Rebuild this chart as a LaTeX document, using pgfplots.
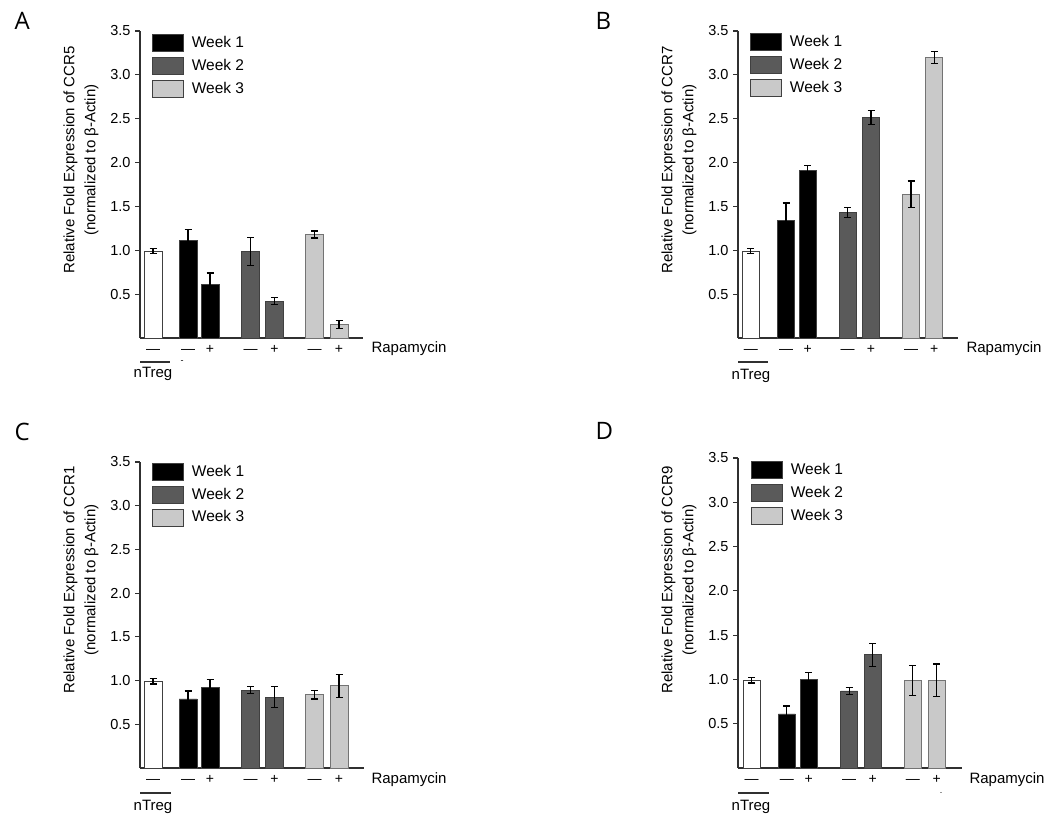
\documentclass[border=0pt]{standalone}
\usepackage{fontspec}
\setmainfont{Liberation Sans}
\newfontfamily\letterfont{Open Sans}
\usepackage{pgfplots}
\pgfplotsset{compat=1.18}
\definecolor{wkone}{HTML}{000000}
\definecolor{wktwo}{HTML}{5A5A5A}
\definecolor{wkthree}{HTML}{C9C9C9}
\definecolor{edge}{HTML}{404040}
\definecolor{axisc}{HTML}{303030}
\pgfplotsset{
  panel/.style={
    scale only axis, axis lines*=left, clip=false,
    ymin=0, ymax=3.5, ytick={0.5,1.0,1.5,2.0,2.5,3.0,3.5},
    yticklabel style={/pgf/number format/fixed, /pgf/number format/fixed zerofill, /pgf/number format/precision=1, /pgf/number format/assume math mode=true, font=\fontsize{14.5}{16}\selectfont, xshift=-1pt},
    axis line style={axisc, line width=1.2pt},
    ytick style={axisc, line width=1.1pt}, tick align=outside, major tick length=5pt,
    xtick style={draw=none},
    xticklabels={\textemdash,\textemdash,+,\textemdash,+,\textemdash,+},
    x tick label style={font=\fontsize{14}{16}\selectfont, anchor=base, yshift=-11pt},
    ybar, bar shift=0pt,
    legend image code/.code={\draw[##1, draw=edge, line width=0.8pt] (0pt,-8.5pt) rectangle (31pt,8.5pt);},
    legend cell align=left,
    legend style={draw=none, fill=none, inner sep=0pt, outer sep=0pt, anchor=north west,
      font=\fontsize{15.5}{17}\selectfont, row sep=5pt, column sep=8pt,
      nodes={inner sep=0pt, text height=11pt, text depth=2pt}},
    every axis plot/.append style={draw=edge, line width=0.8pt,
      error bars/error bar style={black, line width=1.2pt},
      error bars/error mark options={rotate=90, black, line width=1.2pt, mark size=3.5pt}},
  },
  ebar/.style={error bars/.cd, y dir=both, y explicit},
}
\begin{document}
\begin{tikzpicture}[x=1pt, y=1pt, font=\fontsize{15}{21}\selectfont]
\path[use as bounding box] (0,0) rectangle (1050,817);

% ---------------- Panel A ----------------
\node[anchor=base west, font=\letterfont\fontsize{24}{26}\selectfont] at (11,787) {A};
\begin{axis}[panel, at={(140pt,479pt)}, anchor=south west, width=223pt, height=307pt,
  xmin=0, xmax=223, bar width=18, xtick={13,48,70,110.5,134.5,174.5,199},
  legend style={at={(rel axis cs:0.054,0.99)}}]
\addplot[fill=white, forget plot, ebar] coordinates {(13,0.99) +- (0,0.03)};
\addplot[fill=wkone, ebar] coordinates {(48,1.11) +- (0,0.13) (70,0.61) +- (0,0.13)};
\addplot[fill=wktwo, ebar] coordinates {(110.5,0.99) +- (0,0.16) (134.5,0.42) +- (0,0.04)};
\addplot[fill=wkthree, draw=gray!90!black, ebar] coordinates {(174.5,1.18) +- (0,0.04) (199,0.15) +- (0,0.045)};
\legend{Week 1, Week 2, Week 3}
\end{axis}
\node[anchor=base west] at (368,464.5) {Rapamycin};
\draw[axisc, line width=1.1pt] (140,455) -- (170,455);
\node at (153,443) {nTreg};
\node[inner sep=0pt, font=\fontsize{9}{10}\selectfont] at (182,455) {-};
\node[rotate=90, align=center] at (81,657) {Relative Fold Expression of CCR5\\(normalized to β-Actin)};

% ---------------- Panel B ----------------
\node[anchor=base west, font=\letterfont\fontsize{24}{26}\selectfont] at (592,787) {B};
\begin{axis}[panel, at={(738pt,479pt)}, anchor=south west, width=220pt, height=307pt,
  xmin=0, xmax=220, bar width=17, xtick={12.8,48,69.7,109.7,133,173,196.3},
  legend style={at={(rel axis cs:0.055,0.993)}}]
\addplot[fill=white, forget plot, ebar] coordinates {(12.8,0.99) +- (0,0.03)};
\addplot[fill=wkone, ebar] coordinates {(48,1.34) +- (0,0.20) (69.7,1.91) +- (0,0.06)};
\addplot[fill=wktwo, ebar] coordinates {(109.7,1.43) +- (0,0.06) (133,2.51) +- (0,0.08)};
\addplot[fill=wkthree, draw=gray!90!black, ebar] coordinates {(173,1.64) +- (0,0.15) (196.3,3.20) +- (0,0.07)};
\legend{Week 1, Week 2, Week 3}
\end{axis}
\node[anchor=base west] at (963,464) {Rapamycin};
\draw[axisc, line width=1.1pt] (738,455) -- (768,455);
\node at (751,441) {nTreg};
\node[rotate=90, align=center] at (679,657) {Relative Fold Expression of CCR7\\(normalized to β-Actin)};

% ---------------- Panel C ----------------
\node[anchor=base west, font=\letterfont\fontsize{24}{26}\selectfont] at (11,376) {C};
\begin{axis}[panel, at={(140pt,49pt)}, anchor=south west, width=224pt, height=306pt,
  xmin=0, xmax=224, bar width=18, xtick={13,48,70,110.5,134.5,174.5,199},
  legend style={at={(rel axis cs:0.054,0.997)}}]
\addplot[fill=white, forget plot, ebar] coordinates {(13,0.99) +- (0,0.03)};
\addplot[fill=wkone, ebar] coordinates {(48,0.79) +- (0,0.09) (70,0.92) +- (0,0.09)};
\addplot[fill=wktwo, ebar] coordinates {(110.5,0.89) +- (0,0.04) (134.5,0.81) +- (0,0.12)};
\addplot[fill=wkthree, draw=gray!90!black, ebar] coordinates {(174.5,0.84) +- (0,0.05) (199,0.94) +- (0,0.13)};
\legend{Week 1, Week 2, Week 3}
\end{axis}
\node[anchor=base west] at (368,33) {Rapamycin};
\draw[axisc, line width=1.1pt] (140,24) -- (171,24);
\node at (153,10) {nTreg};
\node[rotate=90, align=center] at (81,237) {Relative Fold Expression of CCR1\\(normalized to β-Actin)};

% ---------------- Panel D ----------------
\node[anchor=base west, font=\letterfont\fontsize{24}{26}\selectfont] at (592,377) {D};
\begin{axis}[panel, at={(738pt,49pt)}, anchor=south west, width=224pt, height=310pt,
  xmin=0, xmax=224, bar width=17, xtick={13.5,48.8,70.7,111.2,134.8,174.8,198.8},
  legend style={at={(rel axis cs:0.058,0.99)}}]
\addplot[fill=white, forget plot, ebar] coordinates {(13.5,0.99) +- (0,0.03)};
\addplot[fill=wkone, ebar] coordinates {(48.8,0.61) +- (0,0.09) (70.7,1.00) +- (0,0.08)};
\addplot[fill=wktwo, ebar] coordinates {(111.2,0.87) +- (0,0.04) (134.8,1.28) +- (0,0.13)};
\addplot[fill=wkthree, draw=gray!90!black, ebar] coordinates {(174.8,0.99) +- (0,0.17) (198.8,0.99) +- (0,0.185)};
\legend{Week 1, Week 2, Week 3}
\end{axis}
\node[anchor=base west] at (966,33.5) {Rapamycin};
\draw[axisc, line width=1.1pt] (738,24) -- (769,24);
\node at (751,10) {nTreg};
\node[inner sep=0pt, font=\fontsize{9}{10}\selectfont] at (941,24) {.};
\node[rotate=90, align=center] at (679,237) {Relative Fold Expression of CCR9\\(normalized to β-Actin)};
\end{tikzpicture}
\end{document}
